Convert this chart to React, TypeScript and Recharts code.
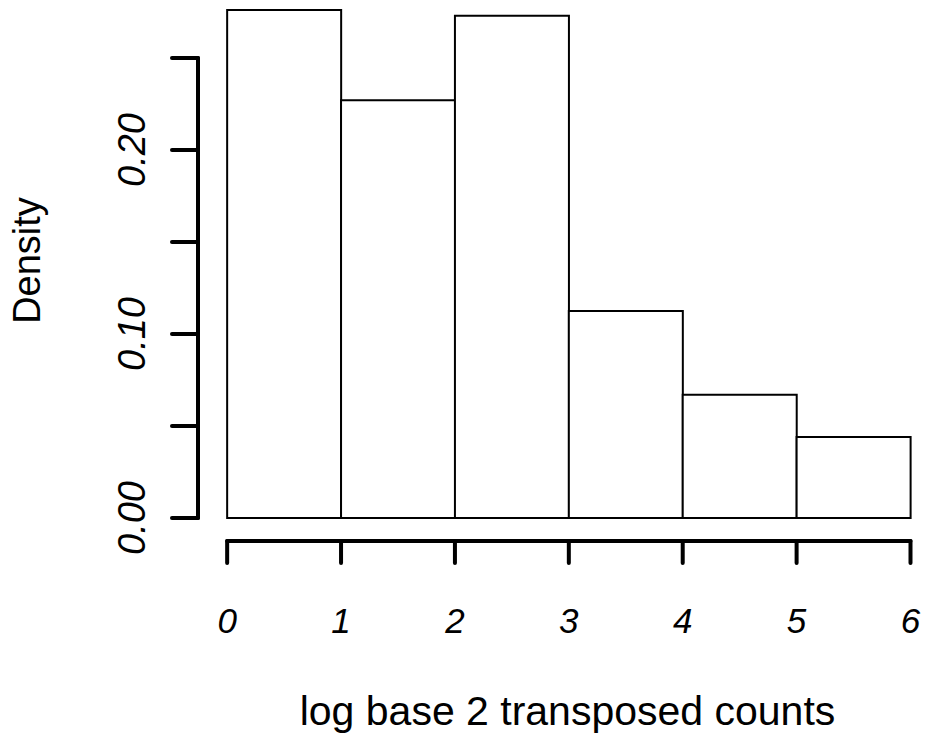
import React from 'react';
import { ComposedChart, Bar, XAxis, YAxis, ReferenceLine } from 'recharts';

// histogram bins (width 1) and their densities
const BIN_MIDS = [0.5, 1.5, 2.5, 3.5, 4.5, 5.5];
const DENSITY = [0.276, 0.227, 0.273, 0.1125, 0.067, 0.044];

const X_TICKS = [0, 1, 2, 3, 4, 5, 6];
const Y_TICKS = [0, 0.05, 0.1, 0.15, 0.2, 0.25];
const Y_LABELS = ['0.00', '', '0.10', '', '0.20', ''];

// plot region like R's usr (slightly extended past the data)
const X_DOMAIN = [-0.256, 6.18];
const Y_DOMAIN = [-0.0125, 0.2815];

const FONT = '"Liberation Sans", Arial, Helvetica, sans-serif';

const data = BIN_MIDS.map((x, i) => ({ x, density: DENSITY[i] }));

const XTick = (props: any) => {
    const { x, y, payload } = props;
    return (
        <text x={x} y={y} textAnchor="middle" fontFamily={FONT} fontStyle="italic" fontSize={35} fill="#000">
            {payload.value}
        </text>
    );
};

const YTick = (props: any) => {
    const { x, y, index } = props;
    const label = Y_LABELS[index];
    if (!label) return null;
    return (
        <text
            x={x}
            y={y}
            transform={`rotate(-90, ${x}, ${y})`}
            textAnchor="middle"
            fontFamily={FONT}
            fontStyle="italic"
            fontSize={38}
            fill="#000"
        >
            {label}
        </text>
    );
};

const XTitle = (props: any) => {
    const { viewBox } = props;
    const cx = viewBox.x + viewBox.width / 2 + 3;
    return (
        <text x={cx} y={725} textAnchor="middle" fontFamily={FONT} fontSize={41} fill="#000">
            log base 2 transposed counts
        </text>
    );
};

const YTitle = (props: any) => {
    const { viewBox } = props;
    const cy = viewBox.y + viewBox.height / 2 - 10;
    const tx = 40;
    return (
        <text
            x={tx}
            y={cy}
            transform={`rotate(-90, ${tx}, ${cy})`}
            textAnchor="middle"
            fontFamily={FONT}
            fontSize={38}
            fill="#000"
        >
            Density
        </text>
    );
};

export default function App() {
    const axisStroke = { stroke: '#000', strokeWidth: 4, strokeLinecap: 'round' as const };
    return (
        <div style={{ position: 'absolute', left: 0, top: 0, width: 931, height: 742, background: '#fff' }}>
            <ComposedChart
                width={931}
                height={742}
                data={data}
                margin={{ top: 0, right: 0, bottom: 0, left: 0 }}
                barCategoryGap={0}
                barGap={0}
            >
                <XAxis
                    dataKey="x"
                    type="number"
                    domain={X_DOMAIN}
                    ticks={X_TICKS}
                    allowDataOverflow
                    height={201}
                    axisLine={false}
                    tickLine={axisStroke}
                    tickSize={22}
                    tickMargin={70}
                    tick={<XTick />}
                    interval={0}
                    label={<XTitle />}
                />
                <YAxis
                    type="number"
                    domain={Y_DOMAIN}
                    ticks={Y_TICKS}
                    allowDataOverflow
                    width={198}
                    axisLine={false}
                    tickLine={axisStroke}
                    tickSize={26}
                    tickMargin={27}
                    tick={<YTick />}
                    interval={0}
                    label={<YTitle />}
                />
                <Bar dataKey="density" fill="#fff" stroke="#000" strokeWidth={2} isAnimationActive={false} />
                <ReferenceLine
                    segment={[{ x: X_TICKS[0], y: Y_DOMAIN[0] }, { x: X_TICKS[X_TICKS.length - 1], y: Y_DOMAIN[0] }]}
                    ifOverflow="visible"
                    {...axisStroke}
                />
                <ReferenceLine
                    segment={[{ x: X_DOMAIN[0], y: Y_TICKS[0] }, { x: X_DOMAIN[0], y: Y_TICKS[Y_TICKS.length - 1] }]}
                    ifOverflow="visible"
                    {...axisStroke}
                />
            </ComposedChart>
        </div>
    );
}
